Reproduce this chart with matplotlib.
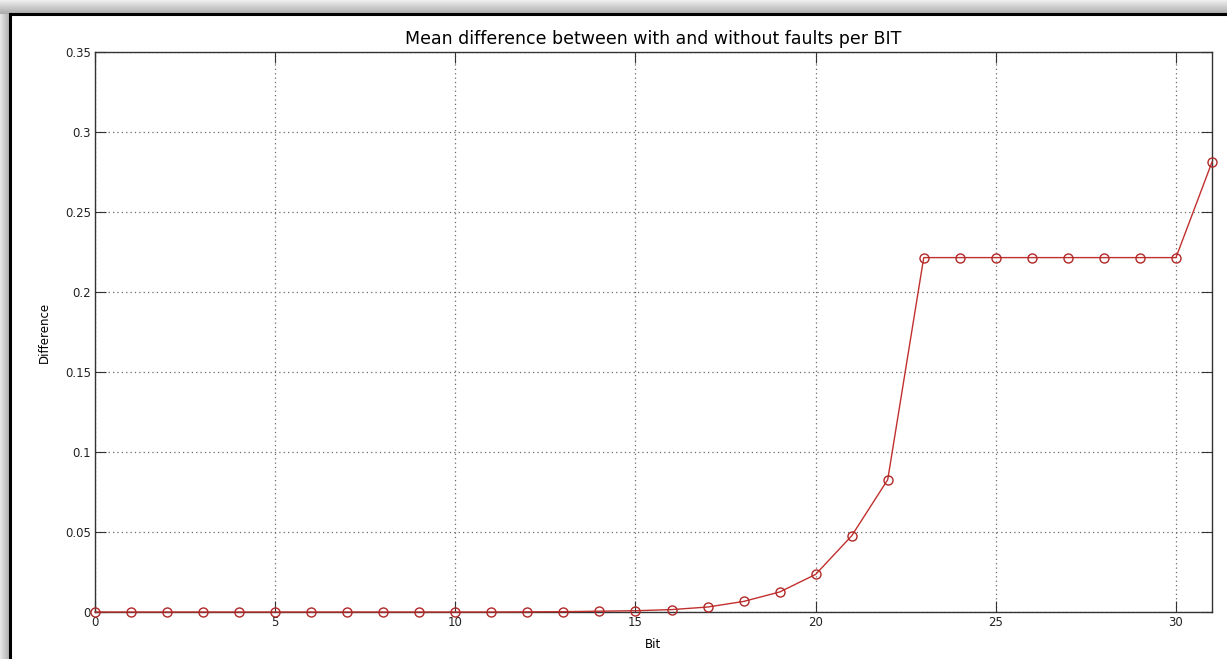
import numpy as np
import matplotlib
matplotlib.use("Agg")
import matplotlib.pyplot as plt
from matplotlib.patches import Rectangle

bits = list(range(32))
diff = [0.0, 0.0, 0.0, 0.0, 0.0, 0.0, 0.0, 0.0, 0.0, 0.0,
        0.0, 0.0, 0.0001, 0.0002, 0.0005, 0.0008, 0.0015, 0.0031, 0.0066, 0.0125,
        0.0235, 0.0476, 0.0827, 0.2215, 0.2215, 0.2215, 0.2215, 0.2215, 0.2215, 0.2215,
        0.2215, 0.2812]
xticks = [0, 5, 10, 15, 20, 25, 30]
yticks = [0, 0.05, 0.1, 0.15, 0.2, 0.25, 0.3, 0.35]
ytick_labels = ["0", "0.05", "0.1", "0.15", "0.2", "0.25", "0.3", "0.35"]

plt.rcParams['font.family'] = ['DejaVu Sans']

W, H = 1227, 659
fig = plt.figure(figsize=(W / 100, H / 100), dpi=100)

# background shadow
bg = fig.add_axes([0, 0, 1, 1], zorder=-10)
bg.set_axis_off()
yy, xx = np.mgrid[0:H, 0:W]
img = np.full((H, W), 0.93)
topmask = yy < 14
leftmask = xx < 10
img = np.where(topmask, 0.93 - 0.28 * (yy / 14.0), img)
img = np.where(leftmask & ~topmask, 0.90 - 0.25 * (xx / 10.0), img)
bg.imshow(img, cmap='gray', vmin=0, vmax=1, aspect='auto', extent=[0, W, H, 0])
bg.add_patch(Rectangle((10, 14), W + 20, H + 20, facecolor='white',
                       edgecolor='black', linewidth=2.2))
bg.set_xlim(0, W)
bg.set_ylim(H, 0)

ax = fig.add_axes([95 / W, 1 - 612 / H, (1212 - 95) / W, (612 - 52) / H])
ax.plot(bits, diff, color='#c0302e', linewidth=1.0, marker='o', markersize=6.5,
        markerfacecolor='none', markeredgecolor='#b02828', markeredgewidth=1.0,
        clip_on=False, zorder=3)
ax.set_xlim(0, 31)
ax.set_ylim(0, 0.35)
ax.set_xticks(xticks)
ax.set_yticks(yticks)
ax.set_yticklabels(ytick_labels)
ax.grid(True, linestyle=(0, (1, 2.5)), color='#6a6a6a', linewidth=0.9)
ax.tick_params(direction='in', length=8, top=True, right=True, labelsize=8.5,
               colors='#333333', labelcolor='#222222', pad=3)
for s in ax.spines.values():
    s.set_color('#333333')
    s.set_linewidth(1.0)
ax.set_title('Mean difference between with and without faults per BIT',
             fontsize=12.5, pad=6)
ax.set_xlabel('Bit', fontsize=8.5, labelpad=6)
ax.set_ylabel('Difference', fontsize=8.5, labelpad=10)

fig.savefig('out.png', dpi=100)
